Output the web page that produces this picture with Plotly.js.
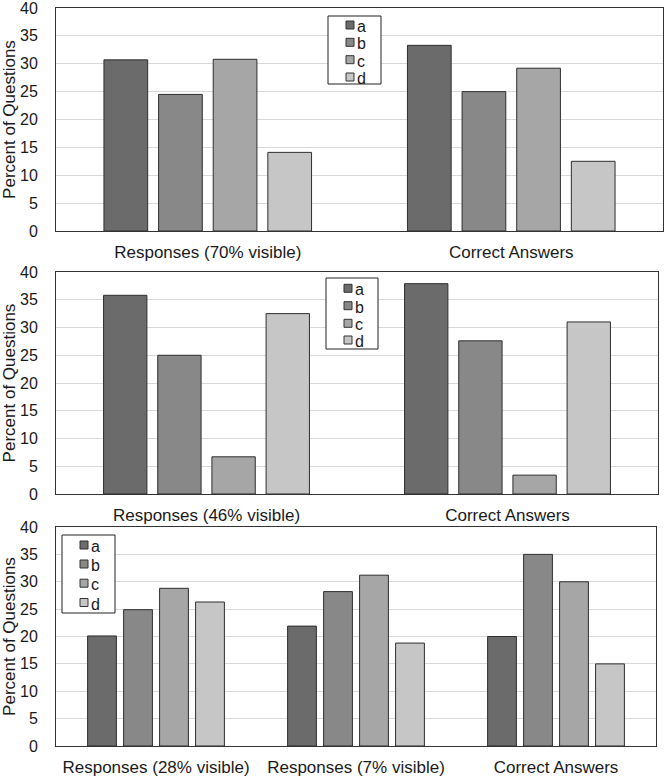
<!DOCTYPE html>
<html>
<head>
<meta charset="utf-8">
<script src="https://cdn.plot.ly/plotly-3.0.1.min.js"></script>
<style>html,body{margin:0;padding:0;background:#fff;}#chart{width:664px;height:778px;}</style>
</head>
<body>
<div id="chart"></div>
<script>
// ---- data ----
const letters = ['a', 'b', 'c', 'd'];
const colors = ['#6b6b6b', '#888888', '#a6a6a6', '#c6c6c6'];

const cats1 = ['Responses (70% visible)', 'Correct Answers'];
const p1_a = [30.7, 33.3];
const p1_b = [24.5, 25.0];
const p1_c = [30.8, 29.2];
const p1_d = [14.1, 12.5];

const cats2 = ['Responses (46% visible)', 'Correct Answers'];
const p2_a = [35.8, 37.9];
const p2_b = [25.0, 27.6];
const p2_c = [6.7, 3.4];
const p2_d = [32.5, 31.0];

const cats3 = ['Responses (28% visible)', 'Responses (7% visible)', 'Correct Answers'];
const p3_a = [20.1, 21.9, 20.0];
const p3_b = [24.9, 28.2, 35.0];
const p3_c = [28.8, 31.2, 30.0];
const p3_d = [26.3, 18.8, 15.0];

const yTicks = [0, 5, 10, 15, 20, 25, 30, 35, 40];
const yTitle = 'Percent of Questions';

// ---- build ----
const W = 664, H = 778;
const fontFam = 'Liberation Sans, Arial, sans-serif';
const txtCol = '#1a1a1a';

const panels = [
  {cats: cats1, vals: [p1_a, p1_b, p1_c, p1_d], xa: 'x', ya: 'y',
   box: [328, 381, 16, 84], sym: [346, 354], rows: [25, 42.3, 59.7, 77]},
  {cats: cats2, vals: [p2_a, p2_b, p2_c, p2_d], xa: 'x2', ya: 'y2',
   box: [326, 378, 278, 349], sym: [344, 352], rows: [288.3, 305.7, 323.3, 340]},
  {cats: cats3, vals: [p3_a, p3_b, p3_c, p3_d], xa: 'x3', ya: 'y3',
   box: [62, 115, 535, 613], sym: [80, 88], rows: [545, 564, 583.2, 602.5]}
];

const traces = [];
const shapes = [];
const annotations = [];
const px = v => v / W;
const py = v => 1 - v / H;

panels.forEach(p => {
  p.vals.forEach((v, i) => {
    traces.push({
      type: 'bar',
      x: p.cats,
      y: v,
      name: letters[i],
      xaxis: p.xa,
      yaxis: p.ya,
      showlegend: false,
      marker: {color: colors[i], line: {color: '#2e2e2e', width: 1}},
      hoverinfo: 'x+y+name'
    });
  });
  // legend box
  shapes.push({type: 'rect', xref: 'paper', yref: 'paper',
    x0: px(p.box[0]), x1: px(p.box[1]), y0: py(p.box[3]), y1: py(p.box[2]),
    line: {color: '#222222', width: 1}, fillcolor: '#ffffff', layer: 'above'});
  letters.forEach((l, i) => {
    const yc = p.rows[i];
    shapes.push({type: 'rect', xref: 'paper', yref: 'paper',
      x0: px(p.sym[0]), x1: px(p.sym[1]), y0: py(yc + 4), y1: py(yc - 4),
      line: {color: '#333333', width: 1}, fillcolor: colors[i], layer: 'above'});
    annotations.push({xref: 'paper', yref: 'paper', x: px(p.sym[1] + 1), y: py(yc + 1.5),
      xanchor: 'left', yanchor: 'middle', showarrow: false, text: l,
      font: {family: fontFam, size: 16, color: txtCol}});
  });
});

function xax(x0, x1, anchor) {
  return {
    domain: [px(x0), px(x1)], anchor: anchor,
    showline: true, mirror: true, linecolor: '#333333', linewidth: 1,
    showgrid: false, zeroline: false, ticks: '', fixedrange: true,
    tickfont: {family: fontFam, size: 17, color: txtCol},
    ticklabelstandoff: 6
  };
}
function yax(y0, y1, anchor) {
  return {
    domain: [py(y1), py(y0)], anchor: anchor,
    range: [0, 40], tickvals: yTicks, ticktext: yTicks.map(String),
    showline: true, mirror: true, linecolor: '#333333', linewidth: 1,
    showgrid: true, gridcolor: '#d9d9d9', gridwidth: 1, zeroline: false,
    ticks: '', fixedrange: true, ticklabeloverflow: 'allow',
    tickfont: {family: fontFam, size: 16, color: txtCol},
    ticklabelstandoff: 14,
    title: {text: yTitle, font: {family: fontFam, size: 17, color: txtCol}, standoff: 4}
  };
}

const layout = {
  width: W, height: H,
  margin: {l: 0, r: 0, t: 0, b: 0},
  paper_bgcolor: '#ffffff', plot_bgcolor: '#ffffff',
  barmode: 'group', bargap: 0.28, bargroupgap: 0.2,
  showlegend: false,
  font: {family: fontFam, color: txtCol},
  xaxis: xax(56, 663, 'y'),
  yaxis: yax(8, 231, 'x'),
  xaxis2: xax(56, 658, 'y2'),
  yaxis2: yax(272, 494, 'x2'),
  xaxis3: xax(56, 656, 'y3'),
  yaxis3: yax(527, 746, 'x3'),
  shapes: shapes,
  annotations: annotations
};

Plotly.newPlot('chart', traces, layout, {displayModeBar: false, staticPlot: true});
</script>
</body>
</html>
